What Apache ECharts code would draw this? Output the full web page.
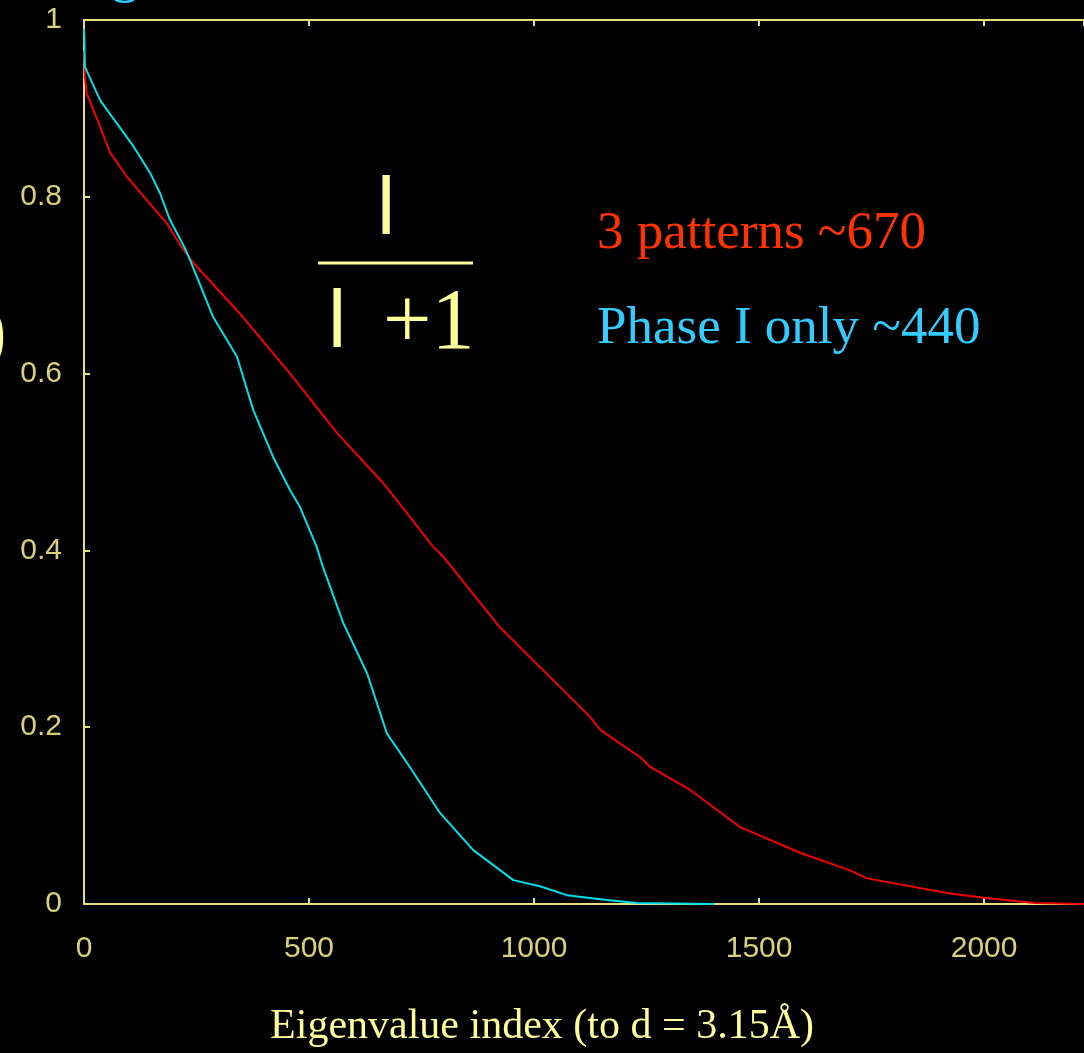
<!DOCTYPE html>
<html>
<head>
<meta charset="utf-8">
<script src="https://cdn.jsdelivr.net/npm/echarts@6/dist/echarts.min.js"></script>
<style>
html,body{margin:0;padding:0;background:#000;}
#c{width:1084px;height:1053px;}
</style>
</head>
<body>
<div id="c"></div>
<script>
// Eigenvalue index (x) and lambda/(lambda+1) (y)
const redIndex = [0, 2, 6, 36, 58, 95, 140, 184, 217, 242, 353, 458, 562, 665, 695, 776, 798, 924, 1013, 1043, 1124, 1147, 1236, 1258, 1347, 1458, 1591, 1702, 1740, 1924, 1998, 2113, 2222];
const redValue = [0.965, 0.935, 0.917, 0.879, 0.850, 0.823, 0.796, 0.770, 0.743, 0.726, 0.664, 0.600, 0.533, 0.476, 0.457, 0.404, 0.393, 0.313, 0.268, 0.253, 0.212, 0.197, 0.166, 0.155, 0.129, 0.087, 0.058, 0.038, 0.029, 0.012, 0.007, 0.001, 0];

const cyanIndex = [0, 1, 2, 36, 73, 110, 147, 169, 191, 224, 236, 287, 340, 376, 420, 458, 480, 517, 531, 576, 629, 673, 724, 791, 865, 954, 1013, 1073, 1162, 1229, 1400];
const cyanValue = [0.99, 0.975, 0.947, 0.909, 0.883, 0.857, 0.827, 0.804, 0.774, 0.742, 0.728, 0.664, 0.619, 0.559, 0.506, 0.468, 0.449, 0.404, 0.381, 0.318, 0.261, 0.193, 0.155, 0.103, 0.061, 0.027, 0.020, 0.010, 0.0045, 0.001, 0];

const xTicks = [0, 500, 1000, 1500, 2000];
const yTicks = [0, 0.2, 0.4, 0.6, 0.8, 1];

const seriesNames = ['3 patterns ~670', 'Phase I only ~440'];
const xTitle = 'Eigenvalue index (to d = 3.15Å)';

const axisColor = '#e6e07a';
const labelColor = '#d8d07a';
const textYellow = '#ffff99';

const chart = echarts.init(document.getElementById('c'), null, {renderer: 'canvas'});

function pairs(xs, ys) { return xs.map((x, i) => [x, ys[i]]); }

const axisCommon = {
  type: 'value', min: 0, max: 2222, interval: 500,
  axisLine: {show: true, lineStyle: {color: axisColor, width: 2}},
  axisTick: {show: true, inside: true, length: 6, lineStyle: {color: axisColor, width: 2}},
  splitLine: {show: false}
};

chart.setOption({
  backgroundColor: '#000',
  animation: false,
  grid: {left: 84, top: 20, right: 0, height: 884, containLabel: false},
  xAxis: [
    Object.assign({}, axisCommon, {
      position: 'bottom',
      axisLabel: {show: true, color: labelColor, fontFamily: 'Liberation Sans', fontSize: 30, margin: 30, showMaxLabel: false,
        formatter: v => xTicks.includes(v) ? String(v) : ''}
    }),
    Object.assign({}, axisCommon, {
      position: 'top',
      axisLabel: {show: false}
    })
  ],
  yAxis: [{
    type: 'value', min: 0, max: 1, interval: 0.2,
    axisLine: {show: true, lineStyle: {color: axisColor, width: 2}},
    axisTick: {show: true, inside: true, length: 6, lineStyle: {color: axisColor, width: 2}},
    splitLine: {show: false},
    axisLabel: {color: labelColor, fontFamily: 'Liberation Sans', fontSize: 30, margin: 22,
      formatter: v => {
        const t = yTicks.find(k => Math.abs(k - v) < 1e-9);
        return t === undefined ? '' : String(Number(t.toFixed(1)));
      }}
  }],
  series: [
    {name: seriesNames[0], type: 'line', data: pairs(redIndex, redValue), showSymbol: false,
      lineStyle: {color: '#f00000', width: 2}, z: 3},
    {name: seriesNames[1], type: 'line', data: pairs(cyanIndex, cyanValue), showSymbol: false,
      lineStyle: {color: '#00e0ea', width: 2}, z: 4}
  ],
  graphic: [
    {type: 'text', left: 597, top: 208, style: {text: seriesNames[0], fill: '#ff3300', font: '53px "Liberation Serif"'}},
    {type: 'text', left: 597, top: 303, style: {text: seriesNames[1], fill: '#33ccff', font: '53px "Liberation Serif"'}},
    {type: 'text', left: 377, top: 170, style: {text: 'l', fill: textYellow, font: '82px "Liberation Sans"'}},
    {type: 'line', shape: {x1: 318, y1: 263, x2: 473, y2: 263}, style: {stroke: textYellow, lineWidth: 3}},
    {type: 'text', left: 328, top: 283, style: {text: 'l', fill: textYellow, font: '82px "Liberation Sans"'}},
    {type: 'text', left: 383, top: 282, style: {text: '+1', fill: textYellow, font: '86px "Liberation Serif"'}},
    {type: 'text', left: -20, top: 296, style: {text: ')', fill: textYellow, font: '80px "Liberation Serif"'}},
    {type: 'text', left: 110, top: -56, style: {text: 'g', fill: '#33ccff', font: '60px "Liberation Serif"'}},
    {type: 'text', left: 'center', top: 1006, style: {text: xTitle, fill: textYellow, font: '42px "Liberation Serif"'}}
  ]
});
</script>
</body>
</html>
